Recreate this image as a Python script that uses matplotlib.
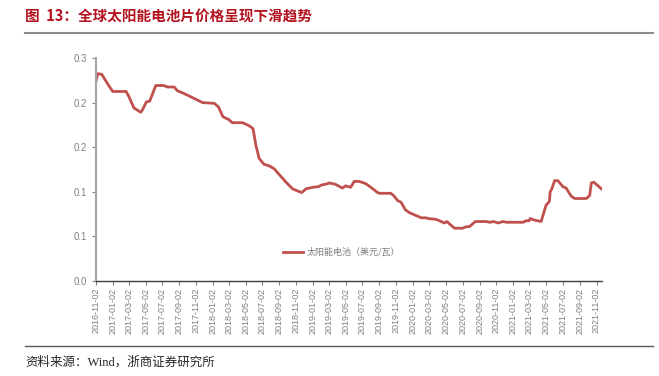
import matplotlib
matplotlib.use("Agg")
import matplotlib.pyplot as plt
import matplotlib.dates as mdates
from matplotlib.lines import Line2D
from matplotlib.ticker import FormatStrFormatter, MultipleLocator
import numpy as np

plt.rcParams["font.family"] = ["Noto Sans CJK SC", "DejaVu Sans"]

TITLE = "图  13：全球太阳能电池片价格呈现下滑趋势"
SOURCE = "资料来源：Wind，浙商证券研究所"
SERIES_NAME = "太阳能电池（美元/瓦）"

# price
dates = [
    "2016-11-02", "2016-11-08", "2016-11-23", "2016-12-20", "2017-01-02",
    "2017-02-20", "2017-03-02", "2017-03-20", "2017-04-14", "2017-04-20",
    "2017-05-05", "2017-05-17", "2017-06-08", "2017-07-08", "2017-07-20",
    "2017-08-14", "2017-08-26", "2017-09-08", "2017-09-26", "2017-11-26",
    "2018-01-08", "2018-01-23", "2018-02-08", "2018-03-02", "2018-03-14",
    "2018-04-20", "2018-05-14", "2018-05-29", "2018-06-08", "2018-06-20",
    "2018-07-08", "2018-07-26", "2018-08-14", "2018-09-02", "2018-09-26",
    "2018-10-20", "2018-11-08", "2018-11-23", "2018-12-08", "2019-01-02",
    "2019-01-23", "2019-02-02", "2019-02-26", "2019-03-02", "2019-03-26",
    "2019-04-20", "2019-05-02", "2019-05-20", "2019-06-02", "2019-06-20",
    "2019-07-14", "2019-08-02", "2019-08-26", "2019-09-02", "2019-10-14",
    "2019-10-26", "2019-11-08", "2019-11-20", "2019-12-05", "2019-12-20",
    "2020-01-14", "2020-02-02", "2020-02-20", "2020-02-26", "2020-03-26",
    "2020-04-08", "2020-04-26", "2020-05-05", "2020-05-14", "2020-06-02",
    "2020-07-02", "2020-07-14", "2020-07-26", "2020-08-17", "2020-09-26",
    "2020-10-08", "2020-10-23", "2020-11-08", "2020-11-26", "2020-12-08",
    "2021-02-08", "2021-02-17", "2021-03-01", "2021-03-05", "2021-03-20",
    "2021-04-14", "2021-05-02", "2021-05-14", "2021-05-17", "2021-05-23",
    "2021-06-02", "2021-06-14", "2021-07-02", "2021-07-14", "2021-08-02",
    "2021-08-14", "2021-09-26", "2021-10-08", "2021-10-14", "2021-10-23",
    "2021-11-20",
]
price = [
    0.269, 0.279, 0.278, 0.262, 0.255,
    0.255, 0.248, 0.233, 0.227, 0.230,
    0.241, 0.242, 0.263, 0.263, 0.261,
    0.261, 0.256, 0.254, 0.251, 0.240,
    0.239, 0.234, 0.221, 0.217, 0.213,
    0.213, 0.209, 0.205, 0.183, 0.165,
    0.157, 0.155, 0.151, 0.143, 0.133,
    0.124, 0.121, 0.119, 0.124, 0.126,
    0.127, 0.129, 0.131, 0.132, 0.130,
    0.125, 0.128, 0.126, 0.134, 0.134,
    0.131, 0.126, 0.119, 0.118, 0.118,
    0.114, 0.108, 0.106, 0.096, 0.092,
    0.088, 0.085, 0.085, 0.084, 0.083,
    0.081, 0.078, 0.080, 0.077, 0.071,
    0.071, 0.073, 0.073, 0.080, 0.080,
    0.079, 0.080, 0.078, 0.080, 0.079,
    0.079, 0.081, 0.081, 0.084, 0.082,
    0.080, 0.102, 0.107, 0.120, 0.124,
    0.135, 0.135, 0.127, 0.125, 0.114,
    0.111, 0.111, 0.115, 0.132, 0.133,
    0.124,
]

tick_dates = [f"{y}-{m:02d}-02" for y in range(2016, 2022) for m in range(1, 13, 2)]
tick_dates = ["2016-11-02"] + tick_dates[6:]

LINE_COLOR = "#c0504d"
TICK_COLOR = "#7f7f7f"
TITLE_COLOR = "#b3121f"

x = np.array(dates, dtype="datetime64[D]")
ticks = np.array(tick_dates, dtype="datetime64[D]")

fig = plt.figure(figsize=(6.59, 3.76), dpi=100)
ax = fig.add_axes([0.1457, 0.2527, 0.7678, 0.593])

ax.plot(x, price, color=LINE_COLOR, linewidth=2.0, solid_joinstyle="round")

ax.set_ylim(0, 0.3)
ax.yaxis.set_major_locator(MultipleLocator(0.06))
ax.yaxis.set_major_formatter(FormatStrFormatter("%.1f"))
ax.set_xlim(np.datetime64("2016-11-02"), np.datetime64("2021-11-22"))
ax.set_xticks(ticks)
ax.xaxis.set_major_formatter(mdates.DateFormatter("%Y-%m-%d"))
ax.tick_params(axis="x", rotation=90, labelsize=6.5, colors=TICK_COLOR,
               length=3, width=0.8, pad=2)
ax.tick_params(axis="y", labelsize=7, colors=TICK_COLOR, length=3, width=0.8)
for lab in ax.get_xticklabels() + ax.get_yticklabels():
    lab.set_color("#808080")
    lab.set_fontfamily("Liberation Sans")

for side in ("top", "right"):
    ax.spines[side].set_visible(False)
ax.spines["left"].set_color("#a6a6a6")
ax.spines["left"].set_linewidth(1.5)
ax.spines["bottom"].set_color("#404040")
ax.spines["bottom"].set_linewidth(1.0)

handle = Line2D([], [], color=LINE_COLOR, linewidth=2.0)
ax.legend([handle], [SERIES_NAME], loc="center", bbox_to_anchor=(0.485, 0.13),
          frameon=False, fontsize=6.5, handlelength=2.2, handletextpad=0.4,
          labelcolor="#7f7f7f")

fig.text(0.038, 0.955, TITLE, color=TITLE_COLOR, fontsize=10.5,
         fontweight="bold", ha="left", va="center")
fig.add_artist(Line2D([0.038, 0.991], [0.912, 0.912], color="#8c8c8c",
                      linewidth=1.5, transform=fig.transFigure))
fig.add_artist(Line2D([0.038, 0.991], [0.080, 0.080], color="#595959",
                      linewidth=1.0, transform=fig.transFigure))
fig.text(0.038, 0.037, SOURCE, color="#262626", fontsize=9,
         family=["Liberation Serif", "Noto Sans CJK SC"],
         ha="left", va="center")

fig.savefig("out.png", dpi=100)
